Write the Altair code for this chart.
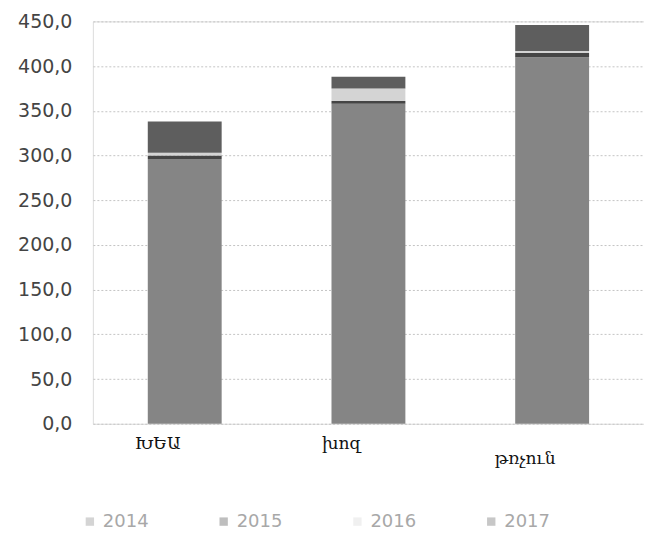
import altair as alt
import pandas as pd

categories = ["ԽԵԱ", "խոզ", "թռչուն"]
years = ["2014", "2015", "2016", "2017"]
v2014 = [296, 358, 410]
v2015 = [4, 3, 5]
v2016 = [3, 14, 2]
v2017 = [35, 13, 29]
colors = ["#858585", "#454545", "#d4d4d4", "#5e5e5e"]

rows = []
for i, c in enumerate(categories):
    for j, (y, vals) in enumerate(zip(years, [v2014, v2015, v2016, v2017])):
        rows.append({"cat": c, "year": y, "value": vals[i], "ord": j})
df = pd.DataFrame(rows)

bars = alt.Chart(df).mark_bar(size=74).encode(
    x=alt.X("cat:N", sort=categories, title=None,
            scale=alt.Scale(paddingInner=0, paddingOuter=0),
            axis=alt.Axis(labelAngle=0, domain=False, ticks=False,
                          labelFont="DejaVu Serif", labelFontSize=17,
                          labelColor="#111", labelOffset=-27,
                          labelPadding={"condition": {"test": "datum.value == 'թռչուն'", "value": 27}, "value": 12})),
    y=alt.Y("value:Q", stack="zero", title=None,
            scale=alt.Scale(domain=[0, 450], nice=False),
            axis=alt.Axis(values=list(range(0, 451, 50)), domain=False, ticks=False,
                          labelExpr="replace(format(datum.value, '.1f'), '.', ',')",
                          labelFont="DejaVu Sans", labelFontSize=19, labelColor="#444",
                          labelPadding=21, gridColor="#c4c4c4", gridDash=[2, 2])),
    color=alt.Color("year:N", scale=alt.Scale(domain=years, range=colors),
                    legend=alt.Legend(title=None, orient="none", direction="horizontal",
                                      legendX=-12, legendY=492, columns=4,
                                      columnPadding=66, symbolType="square",
                                      symbolSize=70, symbolOpacity=0.35,
                                      symbolStrokeWidth=0,
                                      labelFont="DejaVu Sans", labelFontSize=18,
                                      labelColor="#a8a8a8")),
    order=alt.Order("ord:Q"),
).properties(width=552, height=403, padding={"left": 9, "top": 4, "right": 0, "bottom": 0})

chart = bars.configure_view(stroke=None).configure(background="white")
chart.save("out.html", embed_options={"renderer": "svg", "actions": False})
